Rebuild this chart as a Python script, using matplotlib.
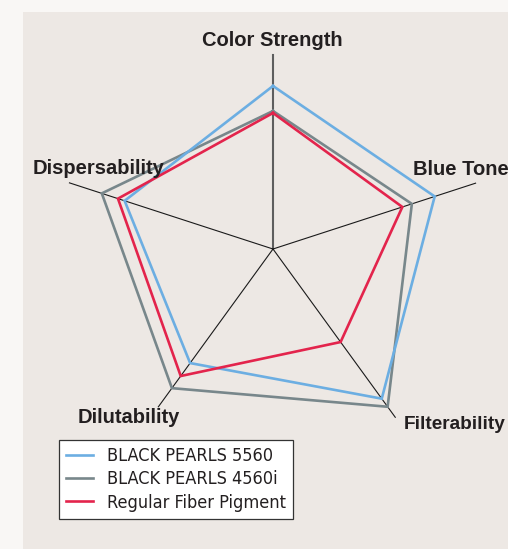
import numpy as np
import matplotlib
matplotlib.use("Agg")
import matplotlib.pyplot as plt
from matplotlib.patches import Rectangle

# radar data (0-10ish scale)
categories = ["Color Strength", "Blue Tone", "Filterability", "Dilutability", "Dispersability"]
bp5560 = [8.15, 8.5, 9.25, 7.05, 7.8]
bp4560i = [6.9, 7.3, 9.75, 8.6, 9.0]
regular = [6.8, 6.8, 5.75, 7.85, 8.15]
spoke_len = [9.7, 10.65, 10.4, 9.75, 10.7]

series_names = ["BLACK PEARLS 5560", "BLACK PEARLS 4560i", "Regular Fiber Pigment"]
colors = ["#6caee2", "#78878b", "#e3244c"]

W, H = 508, 549
fig = plt.figure(figsize=(W / 100, H / 100), dpi=100, facecolor="#f9f7f5")
fig.patches.append(Rectangle((23 / W, 0), 1, 1 - 12 / H, transform=fig.transFigure,
                             facecolor="#ede8e4", edgecolor="none", zorder=-5))

# polar axes centred at (273, 249) px, radius 11 units -> 220 px
cx, cy, R = 273, 249, 220
ax = fig.add_axes([(cx - R) / W, (H - cy - R) / H, 2 * R / W, 2 * R / H], projection="polar")
ax.set_zorder(1)
ax.set_theta_zero_location("N")
ax.set_theta_direction(-1)
ax.set_ylim(0, 11)
ax.set_axis_off()

theta = np.linspace(0, 2 * np.pi, len(categories), endpoint=False)

for i, (t, L) in enumerate(zip(theta, spoke_len)):
    if i == 0:
        ax.plot([t, t], [0, L], color="#5e5e5e", lw=1.5, zorder=1)
    else:
        ax.plot([t, t], [0, L], color="#1a1a1a", lw=0.8, zorder=1)

tt = np.append(theta, theta[0])
data = [bp5560, bp4560i, regular]
zs = [3, 2, 4]
handles = []
for vals, c, name, z in zip(data, colors, series_names, zs):
    v = np.append(vals, vals[0])
    h, = ax.plot(tt, v, color=c, lw=1.9, zorder=z, label=name,
                 solid_joinstyle="miter", clip_on=False)
    handles.append(h)

lab = dict(fontsize=14.5, fontweight="bold", color="#231f20", family="Liberation Sans")
fig.text(272 / W, 1 - 46 / H, categories[0], ha="center", va="baseline", **lab)
fig.text(413 / W, 1 - 175 / H, categories[1], ha="left", va="baseline", **lab)
fig.text(404 / W, 1 - 429 / H, categories[2], ha="left", va="baseline",
         **{**lab, "fontsize": 13.7})
fig.text(78 / W, 1 - 423 / H, categories[3], ha="left", va="baseline", **lab)
fig.text(33 / W, 1 - 174 / H, categories[4], ha="left", va="baseline", **lab)

leg = fig.legend(handles=handles, loc="upper left", bbox_to_anchor=(59 / W, 1 - 440 / H),
                 borderaxespad=0, fancybox=False, framealpha=1, edgecolor="#333333",
                 prop={"family": "DejaVu Sans", "stretch": "condensed", "size": 13},
                 handlelength=1.5, handletextpad=0.8, borderpad=0.38, labelspacing=0.3)
leg.get_frame().set_linewidth(0.9)
for t in leg.get_texts():
    t.set_color("#231f20")

fig.savefig("out.png", dpi=100, facecolor=fig.get_facecolor())
